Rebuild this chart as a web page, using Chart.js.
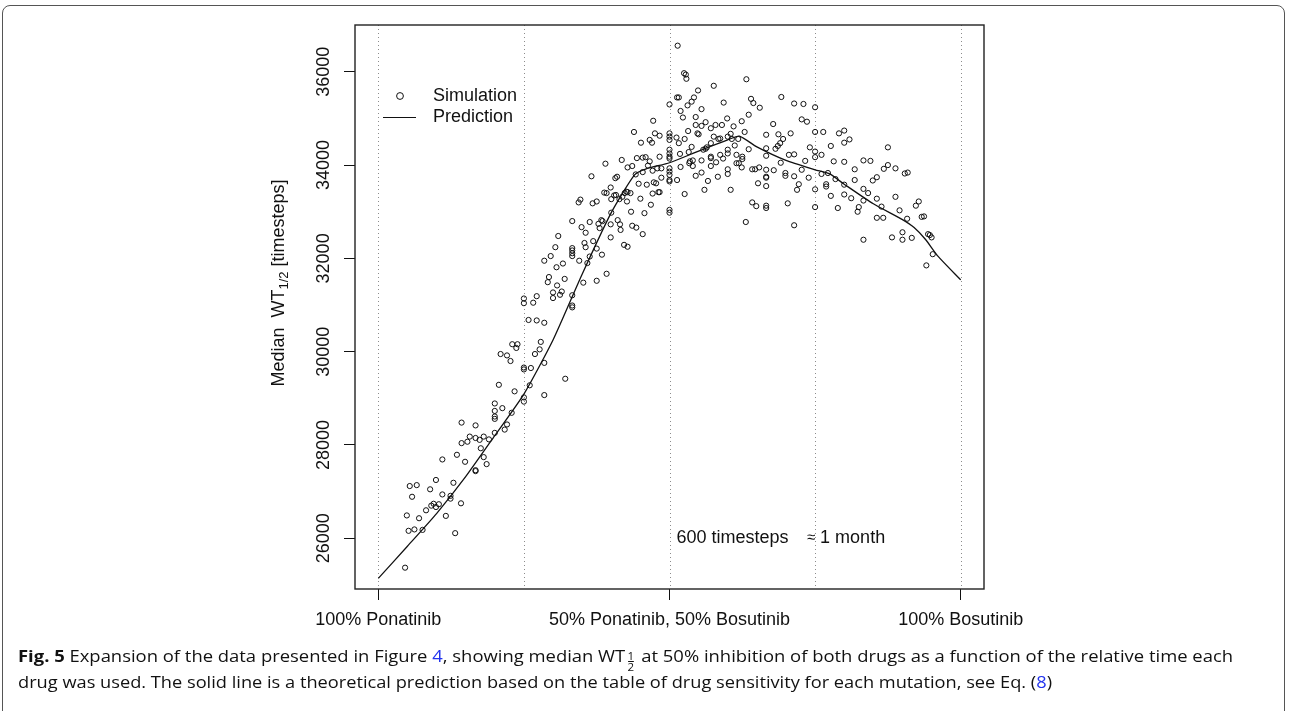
<!DOCTYPE html>
<html>
<head>
<meta charset="utf-8">
<script src="https://cdn.jsdelivr.net/npm/chart.js@4.4.1/dist/chart.umd.min.js"></script>
<style>
  body { margin: 0; background: #fff; width: 1289px; height: 711px; overflow: hidden; position: relative; }
  #frame { position: absolute; left: 2px; top: 5px; width: 1283px; height: 730px; border: 1px solid #555; border-radius: 8px; box-sizing: border-box; }
  #wrap { position: absolute; left: 0; top: 0; width: 1289px; height: 650px; }
  .cap { position: absolute; left: 18px; white-space: nowrap; font-family: "Open Sans", sans-serif; font-size: 16px; color: #111; transform-origin: 0 50%; }
  .cap b { font-weight: 700; }
  .cap a { color: #2233ee; text-decoration: none; }
  .fr { display: inline-block; font-size: 10px; line-height: 10px; vertical-align: -9px; text-align: center; margin: 0 2px; }
  .fr span { display: block; }
  .fr span:first-child { border-bottom: 1px solid #111; }
</style>
</head>
<body>
<div id="frame"></div>
<div id="wrap"><canvas id="chart"></canvas></div>
<div class="cap" id="cap1" data-w="1215" style="top:645px"><b>Fig. 5</b> Expansion of the data presented in Figure <a>4</a>, showing median WT<span class="fr"><span>1</span><span>2</span></span> at 50% inhibition of both drugs as a function of the relative time each</div>
<div class="cap" id="cap2" data-w="1034" style="top:671px">drug was used. The solid line is a theoretical prediction based on the table of drug sensitivity for each mutation, see Eq. (<a>8</a>)</div>
<script>
// simulation points (fraction of time on Bosutinib, median WT half time)
const simX = [
  0.25,0.266,0.258,0.272,0.285,0.230,0.239,0.237,0.279,0.277,
  0.269,0.210,0.221,0.227,0.25,0.25,0.262,0.285,0.207,0.260,
  0.234,0.25,0.25,0.285,0.2,0.2,0.2,0.2,0.213,0.229,
  0.143,0.167,0.221,0.217,0.2,0.190,0.157,0.167,0.174,0.181,
  0.153,0.143,0.176,0.135,0.149,0.181,0.186,0.167,0.167,0.110,
  0.054,0.066,0.099,0.089,0.129,0.058,0.110,0.124,0.124,0.082,
  0.091,0.095,0.099,0.104,0.142,0.049,0.070,0.116,0.052,0.062,
  0.076,0.132,0.046,
  0.366,0.344,0.347,0.368,0.375,0.333,0.349,0.363,0.356,0.378,
  0.380,0.309,0.304,0.296,0.285,0.333,0.333,0.333,0.333,0.354,
  0.356,0.369,0.375,0.363,0.345,0.359,0.317,0.306,0.293,0.291,
  0.320,0.307,0.352,0.375,0.300,0.315,0.312,0.300,0.333,0.272,
  0.25,0.333,0.333,0.321,
  0.514,0.525,0.528,0.529,0.576,0.632,0.549,0.513,0.516,0.5,
  0.542,0.538,0.531,0.519,0.593,0.640,0.644,0.555,0.523,0.472,
  0.545,0.562,0.555,0.545,0.599,0.636,0.624,0.610,0.590,0.579,
  0.571,0.532,0.548,0.550,0.5,0.5,0.5,0.439,0.475,0.483,
  0.466,0.470,0.451,0.512,0.526,0.516,0.576,0.584,0.587,0.600,
  0.605,0.607,0.618,0.612,0.629,0.571,0.564,0.558,0.562,0.538,
  0.533,0.518,0.5,0.5,0.5,0.5,0.483,0.454,0.459,0.444,
  0.436,0.428,0.463,0.466,0.486,0.479,0.442,0.454,0.471,0.486,
  0.473,0.477,0.461,0.447,0.5,0.5,0.5,0.5,0.5,0.513,
  0.519,0.535,0.540,0.534,0.540,0.555,0.555,0.545,0.571,0.571,
  0.571,0.580,0.587,0.592,0.600,0.600,0.600,0.600,0.583,0.566,
  0.560,0.605,0.615,0.615,0.619,0.625,0.625,0.624,0.636,0.642,
  0.647,0.654,0.652,0.642,0.649,0.631,0.526,0.5,0.5,0.390,
  0.407,0.410,0.399,0.388,0.392,0.405,0.408,0.400,0.414,0.419,
  0.423,0.426,0.428,0.433,0.427,0.418,0.434,0.457,0.468,0.450,
  0.471,0.481,0.483,0.400,0.383,0.385,0.399,0.399,0.384,0.392,
  0.411,0.415,0.416,0.436,0.443,0.454,0.422,0.428,
  0.655,0.692,0.714,0.730,0.75,0.727,0.736,0.678,0.666,0.687,
  0.695,0.708,0.75,0.764,0.791,0.800,0.809,0.800,0.690,0.686,
  0.682,0.666,0.666,0.741,0.75,0.75,0.705,0.714,0.761,0.777,
  0.733,0.782,0.800,0.691,0.666,0.679,0.666,0.666,0.666,0.699,
  0.699,0.714,0.727,0.722,0.719,0.739,0.761,0.772,0.75,0.769,
  0.769,0.785,0.800,0.777,0.789,0.800,0.812,0.703,0.666,0.666,
  0.75,0.714,0.818,0.833,0.845,0.818,0.833,0.841,0.849,0.856,
  0.875,0.875,0.868,0.888,0.904,0.909,0.825,0.823,0.833,0.856,
  0.864,0.856,0.867,0.888,0.895,0.833,0.882,0.900,0.900,0.916,
  0.908,0.923,0.928,0.933,0.937,0.944,0.947,0.950,0.952,0.941
];
const simY = [
  31040,31050,30680,30670,30620,30160,30160,30080,30210,30050,
  29950,29950,29920,29800,29660,29620,29650,29760,29290,29280,
  29150,29020,28930,29070,28890,28730,28610,28560,28790,28690,
  28480,28420,28440,28330,28260,28120,28180,28150,28110,28180,
  28070,28040,27930,27790,27640,27740,27590,27460,27440,27690,
  27120,27140,27250,27050,27190,26890,26940,26910,26850,26600,
  26700,26740,26670,26730,26750,26490,26430,26480,26160,26190,
  26180,26110,25370,
  33760,33200,33260,33180,33220,32800,32670,32780,32550,32740,
  32650,32480,32240,32050,31950,32220,32170,32110,32050,32330,
  32240,32370,32210,32040,31950,31900,31890,31810,31600,31490,
  31560,31420,31480,31520,31270,31290,31220,31150,31210,31190,
  31140,30990,30950,29420,
  36560,35970,35940,35850,35700,35840,35600,35450,35450,35300,
  35450,35360,35280,35160,35340,35420,35330,35200,35020,34950,
  35030,34920,34840,34860,35000,35080,34940,34830,34860,34860,
  34790,34730,34680,34660,34680,34610,34540,34710,34680,34630,
  34540,34480,34480,34590,34560,34470,34610,34560,34570,34610,
  34670,34560,34560,34420,34710,34470,34380,34330,34350,34390,
  34280,34240,34330,34250,34180,34140,34180,34160,34170,34150,
  33980,33950,33990,34080,33930,33930,33800,33850,33880,33730,
  33630,33610,33580,33600,33930,33860,33790,33680,33650,33680,
  33960,34080,33980,34040,34100,34100,33840,33770,34180,34150,
  33980,34060,34220,34140,34330,34250,33910,33810,33750,33660,
  33470,33470,34220,34040,34040,34180,34130,33950,34340,33910,
  33910,33950,33610,33200,33120,32780,33380,33040,32980,34030,
  33720,33750,33520,33410,33400,33350,33360,33270,33270,33320,
  33400,33430,33420,33400,33220,34110,33000,32970,33150,33280,
  33390,33420,33420,32980,32820,32800,32730,32450,32080,31670,
  32820,32730,32610,32700,32660,32520,32290,32250,
  35230,35460,35320,35310,35240,34980,34930,34880,34650,34660,
  34560,34680,34710,34710,34680,34740,34550,34480,34470,34410,
  34350,34360,34200,34380,34290,34170,34220,34230,34220,34410,
  34090,34080,34070,34050,33900,33890,33750,33730,33550,33830,
  33770,33760,33900,33590,33470,33730,33810,33830,33480,33590,
  33540,33700,33580,33340,33080,33370,33290,33180,33130,33080,
  33100,32710,33910,34100,34090,33680,33490,33400,33670,33740,
  34380,34000,33920,33930,33820,33840,33100,33000,33240,33280,
  33110,32870,32870,33320,33030,32400,32450,32560,32400,32440,
  32850,33130,33220,32890,32900,32520,32500,32450,32090,31850
];

// theoretical prediction
const predX = [0, 0.05, 0.1, 0.15, 0.2, 0.25, 0.3, 0.35, 0.4, 0.44, 0.46, 0.5, 0.55, 0.6, 0.62, 0.65, 0.7, 0.75, 0.775, 0.8, 0.85, 0.9, 0.92, 0.94, 0.96, 1];
const predY = [25140, 25830, 26530, 27320, 28200, 29090, 30250, 31660, 32980, 33790, 33920, 34050, 34300, 34540, 34620, 34390, 34100, 33900, 33810, 33590, 33170, 32830, 32660, 32400, 32060, 31540];

const yTicks = [26000, 28000, 30000, 32000, 34000, 36000];
const xTicks = [0, 0.5, 1];
const xTickLabels = ["100% Ponatinib", "50% Ponatinib, 50% Bosutinib", "100% Bosutinib"];
const guideX = [0, 0.25, 0.5, 0.75, 1];

const FONT = '"Liberation Sans", Arial, Helvetica, sans-serif';

const extras = {
    id: "extras",
    beforeDatasetsDraw(chart) {
        const { ctx, chartArea: a, scales: { x } } = chart;
        ctx.save();
        ctx.strokeStyle = "#8c8c8c";
        ctx.lineWidth = 1;
        ctx.setLineDash([1, 3]);
        guideX.forEach(v => {
            const px = Math.round(x.getPixelForValue(v)) + 0.5;
            ctx.beginPath();
            ctx.moveTo(px, a.top);
            ctx.lineTo(px, a.bottom);
            ctx.stroke();
        });
        ctx.restore();
    },
    afterDraw(chart) {
        const { ctx, chartArea: a, scales: { x, y } } = chart;
        ctx.save();
        // box
        ctx.strokeStyle = "#222";
        ctx.lineWidth = 1.4;
        ctx.strokeRect(a.left, a.top, a.right - a.left, a.bottom - a.top);

        ctx.fillStyle = "#111";
        ctx.font = "18px " + FONT;

        // rotated y tick labels
        ctx.textAlign = "center";
        ctx.textBaseline = "alphabetic";
        y.ticks.forEach(t => {
            ctx.save();
            ctx.translate(329, y.getPixelForValue(t.value));
            ctx.rotate(-Math.PI / 2);
            ctx.fillText(String(t.value), 0, 0);
            ctx.restore();
        });

        // y title with subscript
        ctx.save();
        ctx.translate(284, 283);
        ctx.rotate(-Math.PI / 2);
        ctx.textAlign = "left";
        const p1 = "Median  WT", p3 = " [timesteps]";
        ctx.font = "18px " + FONT;
        const w1 = ctx.measureText(p1).width, w3 = ctx.measureText(p3).width;
        ctx.font = "13px " + FONT;
        const w2 = ctx.measureText("1/2").width;
        let sx = -(w1 + w2 + w3) / 2;
        ctx.font = "18px " + FONT;
        ctx.fillText(p1, sx, 0);
        ctx.font = "13px " + FONT;
        ctx.fillText("1/2", sx + w1, 4);
        ctx.font = "18px " + FONT;
        ctx.fillText(p3, sx + w1 + w2, 0);
        ctx.restore();

        // legend
        ctx.textAlign = "left";
        ctx.textBaseline = "middle";
        ctx.lineWidth = 1;
        ctx.strokeStyle = "#111";
        ctx.beginPath();
        ctx.arc(400, 96, 3.4, 0, Math.PI * 2);
        ctx.stroke();
        ctx.fillText(chart.data.datasets[0].label, 433, 96);
        ctx.beginPath();
        ctx.moveTo(383, 117.5);
        ctx.lineTo(416, 117.5);
        ctx.stroke();
        ctx.fillText(chart.data.datasets[1].label, 433, 117);

        // note
        const nx = x.getPixelForValue(0.5) + 7, ny = y.getPixelForValue(26000);
        ctx.fillText("600 timesteps", nx, ny);
        ctx.textAlign = "center";
        ctx.font = "15px " + FONT;
        ctx.fillText("\u2248", x.getPixelForValue(0.75) - 4, ny);
        ctx.font = "18px " + FONT;
        ctx.textAlign = "left";
        ctx.fillText("1 month", x.getPixelForValue(0.75) + 5, ny);
        ctx.restore();
    }
};

new Chart(document.getElementById("chart"), {
    type: "scatter",
    data: {
        datasets: [{
            label: "Simulation",
            data: simX.map((v, i) => ({ x: v, y: simY[i] })),
            pointStyle: "circle",
            pointRadius: 2.6,
            pointBorderWidth: 1,
            borderColor: "#111",
            backgroundColor: "rgba(0,0,0,0)",
            order: 2
        }, {
            label: "Prediction",
            data: predX.map((v, i) => ({ x: v, y: predY[i] })),
            showLine: true,
            borderColor: "#111",
            borderWidth: 1.3,
            pointRadius: 0,
            tension: 0.2,
            order: 1
        }]
    },
    options: {
        responsive: true,
        maintainAspectRatio: false,
        animation: false,
        layout: { padding: { left: 0, right: 305, top: 25, bottom: 0 } },
        plugins: { legend: { display: false }, tooltip: { enabled: false } },
        scales: {
            x: {
                type: "linear",
                min: -0.04,
                max: 1.04,
                afterBuildTicks: s => { s.ticks = xTicks.map(v => ({ value: v })); },
                afterFit: s => { s.height = 61; },
                grid: { drawOnChartArea: false, drawTicks: true, tickLength: 11, tickColor: "#111", tickWidth: 1 },
                border: { display: false },
                ticks: {
                    padding: 9,
                    color: "#111",
                    font: { family: FONT, size: 18 },
                    maxRotation: 0,
                    autoSkip: false,
                    callback: (v, i) => xTickLabels[i]
                }
            },
            y: {
                type: "linear",
                min: 24913,
                max: 37003,
                afterBuildTicks: s => { s.ticks = yTicks.map(v => ({ value: v })); },
                afterFit: s => { s.width = 355; },
                grid: { drawOnChartArea: false, drawTicks: true, tickLength: 11, tickColor: "#111", tickWidth: 1 },
                border: { display: false },
                ticks: { display: false }
            }
        }
    },
    plugins: [extras]
});

// squeeze caption lines to the width of the printed caption
document.querySelectorAll(".cap").forEach(el => {
    const w = el.getBoundingClientRect().width;
    el.style.transform = "scaleX(" + (el.dataset.w / w) + ")";
});
</script>
</body>
</html>
